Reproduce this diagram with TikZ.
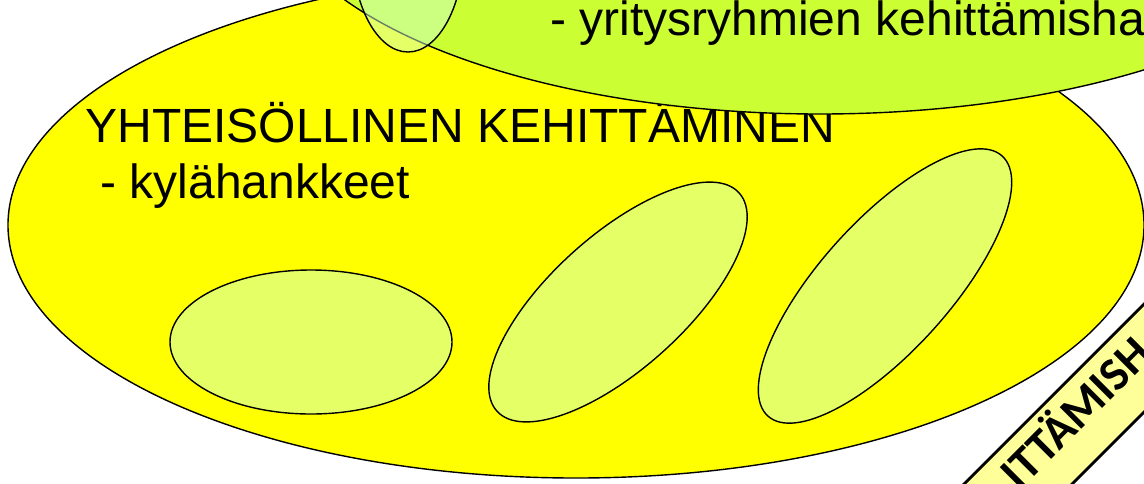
\documentclass[tikz,border=0pt]{standalone}
\usepackage{fontspec}
\setmainfont{Liberation Sans}
\newfontfamily\bannerfont{Carlito}
\definecolor{bigyellow}{HTML}{FFFF00}
\definecolor{limegreen}{HTML}{CCFF33}
\definecolor{paleyellow}{HTML}{E5FF66}
\definecolor{palegreen}{HTML}{CCFFCC}
\definecolor{bannerfill}{HTML}{FFFF99}
\begin{document}
\begin{tikzpicture}[x=0.5pt,y=-0.5pt,
  outline/.style={draw=black, line width=0.7pt},
  bigtext/.style={inner sep=0pt, anchor=base west, font=\fontsize{24}{28}\selectfont},
  bannertext/.style={inner sep=0pt, anchor=base, rotate=45, font=\bannerfont\bfseries\fontsize{23.5}{28}\selectfont}]
\useasboundingbox (0,0) rectangle (1144,483);
\clip (0,0) rectangle (1144,483);
% big yellow ellipse
\path[outline, fill=bigyellow] (576,225) ellipse (568 and 253);
% inner ellipses
\path[outline, fill=paleyellow] (311,342) ellipse (141 and 72);
\path[outline, fill=paleyellow, rotate around={42:(618,302)}] (618,302) ellipse (163 and 67);
\path[outline, fill=paleyellow, rotate around={48:(885,286)}] (885,286) ellipse (175 and 65);
% texts in yellow
\node[bigtext] (yhteis) at (85,142) {YHTEISÖLLINEN KEHITTÄMINEN};
\node[bigtext] (kyla) at (100,198) {- kylähankkeet};
% green ellipse
\path[outline, fill=limegreen] (820,-116) ellipse (550 and 230);
\node[bigtext] (yritys) at (550,35) {- yritysryhmien kehittämisha};
% small translucent ellipse
\path[outline, fill=palegreen, fill opacity=0.5] (408,-53) ellipse (56 and 105);
% diagonal banner
\path[draw=black, line width=1.4pt, fill=bannerfill] (900,548) -- (1250,198) -- (1304,252) -- (954,602) -- cycle;
\node[bannertext] (banner) at (1087,424) {ITTÄMISH};
\end{tikzpicture}
\end{document}
